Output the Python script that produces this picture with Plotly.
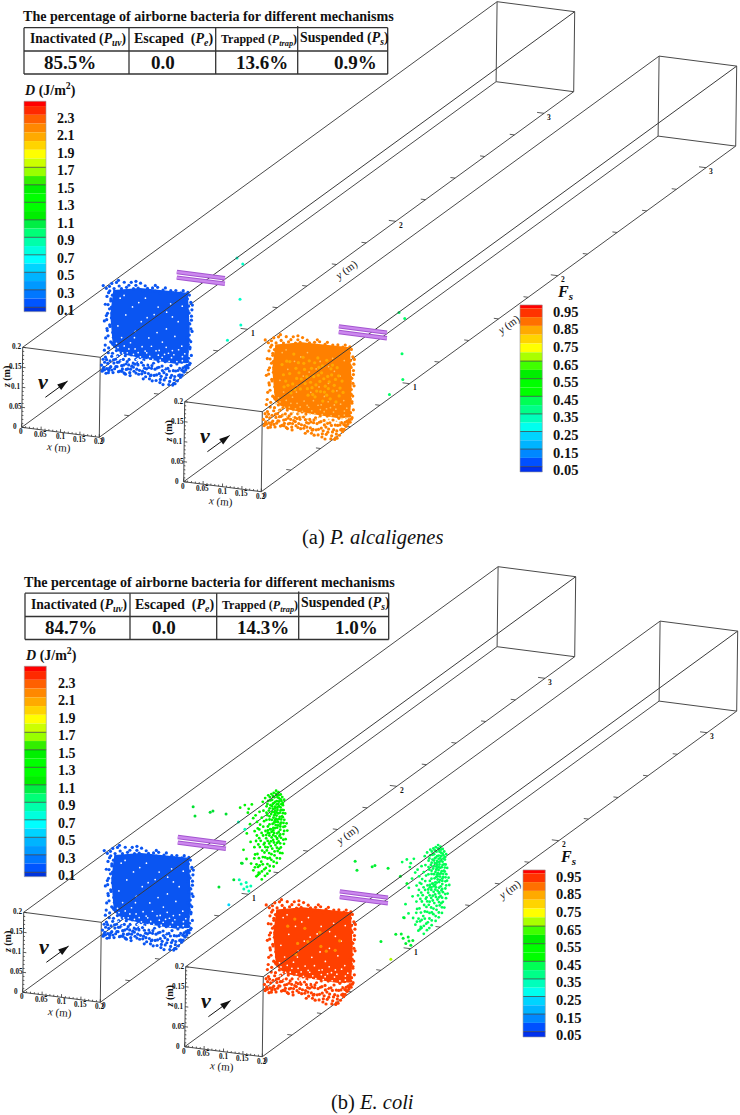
import math
import plotly.graph_objects as go

# ---- chart values (metres / millimetres in duct coordinates) ----
DUCT_X = 0.2
DUCT_Z = 0.2
DUCT_Y = 3.2
CLOUD_Y = 0.58      # position of the bacteria front just after entering
FRONT2_Y = 1.2      # second front (b), and reference plane for stragglers
ROD_Y = 0.9
x_ticks = [0, 0.05, 0.1, 0.15, 0.2]
z_ticks = [0, 0.05, 0.1, 0.15, 0.2]
y_major = [1, 2, 3]
y_minor = [0.2, 0.4, 0.6, 0.8, 1.2, 1.4, 1.6, 1.8, 2.2, 2.4, 2.6, 2.8]

D_labels = ["2.3", "2.1", "1.9", "1.7", "1.5", "1.3", "1.1", "0.9", "0.7", "0.5", "0.3", "0.1"]
D_values = [2.3, 2.1, 1.9, 1.7, 1.5, 1.3, 1.1, 0.9, 0.7, 0.5, 0.3, 0.1]
D_edges = [2.455, 2.4, 2.3, 2.2, 2.1, 2.0, 1.9, 1.8, 1.7, 1.6, 1.5, 1.4, 1.3, 1.2, 1.1, 1.0, 0.9, 0.8, 0.7, 0.6, 0.5, 0.4, 0.3, 0.2, 0.1, 0.05]
D_colors = ["#ff0000", "#ff2a00", "#ff6000", "#ff8800", "#ffaa00", "#ffd400", "#ffff00", "#ccff00", "#99ff00", "#33ee00",
            "#00f000", "#00ff00", "#00ff00", "#00ee00", "#00ee44", "#00ff77", "#00ffaa", "#00ffdd", "#00ffff", "#00d4ff",
            "#00b4ff", "#0099ff", "#0077ff", "#0055ff", "#0033dd"]
F_labels = ["0.95", "0.85", "0.75", "0.65", "0.55", "0.45", "0.35", "0.25", "0.15", "0.05"]
F_values = [0.95, 0.85, 0.75, 0.65, 0.55, 0.45, 0.35, 0.25, 0.15, 0.05]
F_edges = [0.969, 0.95, 0.9, 0.85, 0.8, 0.75, 0.7, 0.65, 0.6, 0.55, 0.5, 0.45, 0.4, 0.35, 0.3, 0.25, 0.2, 0.15, 0.1, 0.05, 0.02]
F_colors = ["#ff0000", "#ff3300", "#ff7000", "#ffaa00", "#ffd400", "#ffff00", "#aaff00", "#40ff00", "#00ee00", "#00ff00",
            "#00ff00", "#00ff55", "#00ff88", "#00ffbb", "#00ffee", "#00d4ff", "#00b4ff", "#0088ff", "#0050ff", "#0030ee"]

headers = ["Inactivated (<i>P<sub>uv</sub></i>)", "Escaped  (<i>P<sub>e</sub></i>)", "Trapped (<i>P<sub>trap</sub></i>)", "Suspended (<i>P<sub>s</sub></i>)"]
values_a = ["85.5%", "0.0", "13.6%", "0.9%"]
values_b = ["84.7%", "0.0", "14.3%", "1.0%"]

# dense part of the cloud at the first front: outline (x mm, z mm)
core_outline = [(12, 188), (81, 202), (204, 205), (210, 113), (207, 30), (173, 24), (108, 26), (44, 30), (13, 46), (5, 125)]
cloud_top = [(2,196),(8,204),(14,192),(20,208),(27,200),(33,194),(40,211),(46,199),(52,205),(58,213),(64,198),(70,207),(76,201),(82,214),(88,196),(94,209),(100,203),(107,197),(113,206),(120,199),(126,209),(133,195),(140,204),(146,210),(153,198),(160,205),(166,200),(173,207),(180,196),(186,203),(192,209),(198,199),(204,206),(208,200),(-6,190),(0,180),(-14,196),(25,214),(70,217),(120,213)]
cloud_left = [(-4,170),(6,160),(-8,150),(3,140),(10,175),(-2,128),(8,118),(-10,108),(4,100),(-3,90),(12,82),(0,72),(-6,66),(7,58),(-1,150),(9,130),(-4,112),(5,96),(14,70),(-7,48),(2,42),(11,55),(-2,85),(6,165),(-9,35),(1,30),(13,52),(-5,122),(8,145),(3,185)]
cloud_right = [(203,190),(212,182),(206,172),(215,164),(208,155),(202,146),(214,138),(210,128),(205,120),(216,110),(209,100),(203,92),(213,84),(207,76),(211,66),(204,58),(215,50),(208,42),(206,34),(212,30),(201,18),(210,26),(214,148),(205,160),(209,88),(213,116),(204,24),(211,70),(207,130),(216,176)]
cloud_bottom = [(-14,-18),(-10,-8),(-16,-3),(-8,5),(-12,12),(-4,-22),(-2,-10),(-6,18),(0,3),(3,-14),(6,10),(8,-4),(10,22),(12,30),(14,-18),(16,6),(18,-8),(20,16),(22,38),(24,-2),(27,26),(29,10),(32,-12),(34,33),(36,2),(38,-6),(40,18),(43,-16),(45,28),(47,8),(50,40),(52,-4),(55,20),(57,-13),(60,32),(62,4),(65,12),(68,-8),(70,36),(72,22),(75,-2),(78,9),(80,-14),(83,28),(85,42),(87,16),(90,-5),(93,24),(95,3),(98,-18),(100,36),(103,12),(105,-9),(108,-22),(110,30),(113,5),(115,-26),(118,18),(120,-12),(123,38),(125,-24),(128,8),(130,24),(133,-6),(136,-20),(138,34),(140,14),(143,-32),(145,-2),(148,26),(150,-14),(153,40),(155,10),(158,-30),(160,-22),(163,18),(165,-6),(168,32),(170,-26),(172,-16),(175,6),(178,24),(180,-18),(183,-4),(185,14),(188,-8),(190,30),(192,-2),(195,8),(197,6),(199,20),(201,12),(203,18),(205,20),(207,18),(174,-26),(168,-30),(58,-20),(112,-12),(25,25),(75,30),(150,32),(182,34),(30,40),(125,42),(160,36),(95,38),(195,36)]
cloud_bottom2 = [(-8,-14),(-3,12),(5,-8),(11,-12),(15,14),(21,-2),(25,9),(28,-14),(33,14),(37,-12),(41,4),(48,-6),(50,14),(54,6),(59,-4),(66,2),(70,10),(73,-12),(77,14),(82,-4),(88,-12),(92,10),(96,-8),(100,2),(106,6),(110,-14),(114,12),(122,4),(126,-10),(132,10),(138,-12),(141,3),(146,-20),(149,8),(152,-6),(159,4),(162,-12),(169,6),(173,-8),(181,8),(186,-2),(191,10),(194,16),(-12,-14),(2,-20),(46,-18),(92,-24),(135,-28)]
cloud_gaps = [(30,170),(62,152),(95,178),(128,160),(160,172),(45,130),(85,118),(118,140),(150,108),(180,130),(25,100),(70,92),(105,80),(140,74),(172,92),(190,70),(35,72),(58,62),(88,56),(112,60),(132,52),(150,62),(166,56),(182,60),(198,52),(22,56),(42,52),(70,48),(96,46),(124,50),(146,44),(170,46),(192,44),(50,36),(78,40),(108,34),(135,28),(158,28),(186,24),(30,30),(60,24),(92,20),(120,14),(146,10),(172,16),(196,26),(16,40),(44,12),(80,16),(104,26),(130,40),(156,48),(68,76),(126,96),(165,140),(40,178),(78,165),(150,150),(100,130),(190,170),(24,24),(38,34),(54,46),(66,34),(84,30),(100,42),(116,28),(140,36),(164,38),(178,30),(192,34),(26,46),(74,22),(98,12),(126,20),(152,18),(180,14),(35,14),(60,12)]
cloud_light = [(60,170),(72,150),(88,135),(100,158),(112,120),(118,100),(125,145),(130,85),(138,118),(145,165),(150,95),(158,130),(165,105),(172,150),(178,80),(185,118),(50,120),(58,95),(68,110),(78,85),(90,100),(98,72),(108,92),(116,70),(128,110),(136,62),(146,78),(155,70),(162,90),(170,64),(42,150),(34,115),(46,90),(54,72),(66,135),(84,165),(94,118),(106,140),(122,168),(134,150),(148,125),(160,155),(176,130),(188,90),(30,140),(40,100),(80,110),(114,155),(142,100),(168,120),(74,125),(104,105),(132,132),(152,112),(64,82),(120,85),(180,100),(96,88),(140,85),(110,75),(86,150),(124,125),(156,145),(50,150),(36,85)]

# second front (panel b), at y = FRONT2_Y
green_band = [(192,204),(198,201),(186,198),(204,196),(180,194),(195,192),(208,190),(176,186),(188,187),(200,186),(213,184),(182,180),(194,178),(206,180),(172,176),(186,172),(198,172),(210,170),(178,166),(190,164),(204,164),(168,162),(184,158),(196,156),(212,158),(174,152),(188,150),(202,150),(216,150),(180,144),(194,142),(208,142),(170,140),(186,136),(200,134),(214,134),(176,130),(192,126),(206,126),(220,126),(162,124),(184,120),(198,118),(212,116),(152,114),(172,112),(190,110),(204,108),(222,108),(146,104),(166,100),(182,100),(196,98),(212,98),(156,94),(176,90),(192,90),(206,88),(218,86),(144,86),(168,82),(186,80),(200,78),(214,74),(154,74),(176,70),(192,68),(206,64),(148,64),(166,60),(184,58),(198,54),(210,50),(138,56),(158,50),(176,46),(190,42),(204,36),(146,40),(166,34),(182,30),(196,24),(138,28),(156,22),(172,18),(188,14),(130,14),(148,8),(164,4),(178,2),(136,-2),(152,-8),(166,-12),(144,-16),(158,-22),(150,-6),(190,130),(196,112),(202,92),(186,92),(180,76),(170,52),(160,34),(152,12),(194,150),(200,166),(190,176),(204,122),(196,84),(210,140),(180,106),(188,124),(172,96),(164,70),(178,34),(140,136),(150,146),(122,150),(130,162),(112,158),(100,150),(120,140),(134,128),(144,120),(126,112),(138,96),(128,68),(118,88),(110,46),(118,24),(105,12)]
green_band2 = [(184,190),(192,196),(200,194),(172,190),(164,182),(178,178),(200,178),(210,176),(158,172),(170,168),(194,170),(206,172),(182,164),(196,162),(208,158),(176,158),(190,154),(204,156),(160,150),(168,146),(182,150),(198,148),(210,150),(188,142),(202,140),(176,138),(192,134),(206,134),(156,132),(168,128),(182,130),(198,126),(212,126),(176,118),(192,118),(204,116),(216,118),(160,110),(178,106),(186,110),(200,102),(214,106),(150,102),(172,102),(188,98),(204,96),(160,88),(182,86),(196,86),(212,84),(150,80),(172,76),(188,74),(204,74),(162,66),(180,64),(196,62),(142,72),(172,60),(190,52),(204,50),(152,58),(164,46),(182,44),(196,36),(150,30),(172,32),(188,26),(140,38),(160,16),(178,14),(144,14),(168,8),(158,-2),(172,-6),(140,6),(148,-12),(196,188),(204,184),(190,160),(184,170),(196,132),(186,104),(176,96),(196,74),(202,60),(168,90),(190,146)]
sparse_green = [(-21,137),(-16,115),(23,129),(30,133),(64,130),(48,-55),(107,12),(86,-32)]
sparse_cool = [(96,114),(113,98),(105,-40),(112,-52),(120,-45),(118,-35),(125,-55),(130,-42),(100,-30)]
sparse_single = [(74,-96)]
sparse_a = [(95,111),(110,98),(104,9),(107,-55),(73,-97)]

# ---- projection ----
Y_UNIT = (148.25, -108.0)
X_UNIT = (388.0, 50.0)
Z_UNIT = (5.0, -400.0)

def proj(origin, x, y, z):
    return (origin[0] + x * X_UNIT[0] + y * Y_UNIT[0] + z * Z_UNIT[0],
            origin[1] + x * X_UNIT[1] + y * Y_UNIT[1] + z * Z_UNIT[1])

PAGE_W, PAGE_H = 740, 1115
fig = go.Figure()
annotations = []
shapes = []
LINE = "#4a4a4a"
SERIF = "Liberation Serif"


def text(x, y, s, size, bold=True, angle=0, color="#111111", anchor="center"):
    annotations.append(dict(x=x, y=y, xref="x", yref="y", text=f"<b>{s}</b>" if bold else s, showarrow=False,
                            font=dict(family=SERIF, size=size, color=color), textangle=angle,
                            xanchor=anchor, yanchor="middle"))


def points(origin, pts, y, color, size):
    p = [proj(origin, a / 1000, y, b / 1000) for a, b in pts]
    fig.add_trace(go.Scatter(x=[q[0] for q in p], y=[q[1] for q in p], mode="markers",
                             marker=dict(color=color, size=size, line=dict(width=0)), hoverinfo="skip", showlegend=False))


def segs(seg_list, color=LINE, width=1.0):
    xs, ys = [], []
    for a, b in seg_list:
        xs += [a[0], b[0], None]
        ys += [a[1], b[1], None]
    fig.add_trace(go.Scatter(x=xs, y=ys, mode="lines", line=dict(color=color, width=width), hoverinfo="skip", showlegend=False))


def cloud(o, main, light=None, light_pts=(), gap_color="#ffffff"):
    core = [proj(o, a / 1000, CLOUD_Y, b / 1000) for a, b in core_outline]
    fig.add_trace(go.Scatter(x=[q[0] for q in core], y=[q[1] for q in core], mode="lines", fill="toself", fillcolor=main,
                             line=dict(width=0, color=main), hoverinfo="skip", showlegend=False))
    points(o, cloud_top + cloud_left + cloud_right + cloud_bottom + cloud_bottom2, CLOUD_Y, main, 3.2)
    points(o, cloud_gaps, CLOUD_Y, gap_color, 1.7)
    if light:
        points(o, light_pts, CLOUD_Y, light, 3.2)


def duct_back(o):
    P = lambda x, y, z: proj(o, x, y, z)
    corners = [(0, 0), (DUCT_X, 0), (DUCT_X, DUCT_Z), (0, DUCT_Z)]
    s = []
    for k in range(4):
        a, b = corners[k], corners[(k + 1) % 4]
        s.append((P(a[0], 0, a[1]), P(b[0], 0, b[1])))
        s.append((P(a[0], DUCT_Y, a[1]), P(b[0], DUCT_Y, b[1])))
        if k != 2:
            s.append((P(a[0], 0, a[1]), P(a[0], DUCT_Y, a[1])))
    segs(s)
    t = []
    for y in y_minor:
        t.append((P(DUCT_X, y, 0), P(DUCT_X - 0.012, y, 0)))
    for y in y_major:
        t.append((P(DUCT_X, y, 0), P(DUCT_X - 0.018, y, 0)))
    for k in range(0, 21):
        v = k / 100
        ln = 0.008 if k % 5 == 0 else 0.004
        t.append((P(v, 0, 0), P(v, 0, ln)))
        t.append((P(0, 0, v), P(ln, 0, v)))
    segs(t, "#333333", 0.8)


def duct_front(o):
    P = lambda x, y, z: proj(o, x, y, z)
    # the upper long edge passes in front of the particles
    segs([(P(DUCT_X, 0, DUCT_Z), P(DUCT_X, DUCT_Y, DUCT_Z))], "#3a3a3a", 1.0)
    for z in (0.152, 0.138):
        a, b = P(0.054, ROD_Y, z), P(0.178, ROD_Y, z)
        segs([(a, b)], "#a455d0", 4.4)
        segs([(a, b)], "#cc88ee", 2.4)
    for y in y_major:
        q = P(DUCT_X, y, 0)
        text(q[0] + 5, q[1] + 4, str(y), 7.5)
    for v in x_ticks:
        q = P(v, 0, 0)
        text(q[0] - 0.5, q[1] + 5, f"{v:g}", 7.2)
    for v in z_ticks:
        q = P(0, 0, v)
        text(q[0] - 6.5, q[1], f"{v:g}", 7.2)
    q = P(DUCT_X, 0, 0)
    text(q[0] + 4, q[1] + 4, "0", 7.2)
    q = P(0.095, 0, 0)
    text(q[0] - 0.5, q[1] + 15, "<i>x</i> (m)", 11, bold=False, angle=5)
    q = P(0, 0, 0.125)
    text(q[0] - 15.5, q[1], "<i>z</i> (m)", 10, angle=-90)
    q = P(DUCT_X, 1.67, 0)
    text(q[0], q[1] + 13, "<i>y</i> (m)", 11, bold=False, angle=-36)
    a, b = P(0.06, 0, 0.0825), P(0.06, 0.15, 0.0825)
    segs([(a, b)], "#111111", 1.0)
    ang = math.degrees(math.atan2(b[0] - a[0], a[1] - b[1]))
    fig.add_trace(go.Scatter(x=[b[0]], y=[b[1]], mode="markers", hoverinfo="skip", showlegend=False,
                             marker=dict(symbol="arrow", size=11, angle=ang, color="#111111", line=dict(width=0))))
    q = P(0.05, 0, 0.125)
    text(q[0] + 1.5, q[1] + 1.5, "<i>v</i>", 22)


def bar(x0, x1, ref_px, px_per_unit, edges, colors, values, labels, label_x, size):
    py = lambda v: ref_px - (v - values[-1]) * px_per_unit
    for k, c in enumerate(colors):
        shapes.append(dict(type="rect", x0=x0, x1=x1, y0=py(edges[k]), y1=py(edges[k + 1]), xref="x", yref="y",
                           fillcolor=c, line=dict(width=0), layer="below"))
    shapes.append(dict(type="rect", x0=x0, x1=x1, y0=py(edges[0]), y1=py(edges[-1]), xref="x", yref="y",
                       line=dict(width=0.6, color="#9a9a9a"), layer="above"))
    s = []
    for v, lab in zip(values, labels):
        s.append(((x0, py(v)), (x1, py(v))))
        text(label_x, py(v) + 3.4, lab, size)
    segs(s[3:], "#333333", 0.7)


def table(dx, dy, vals):
    X = [24, 129, 215.7, 297.7, 387.7]
    Y = [27.7, 51, 74]
    s = [((X[0] + dx, y + dy), (X[-1] + dx, y + dy)) for y in Y]
    s += [((x + dx, Y[0] + dy), (x + dx, Y[-1] + dy)) for x in X]
    s.append(((X[3] + dx, 26 + dy), (X[3] + dx, 27.7 + dy)))
    segs(s, "#333333", 1.3)
    text(208.5 + dx, 16 + dy, "The percentage of airborne bacteria for different mechanisms", 14.1)
    cx = [77.5, 173.5, 259, 344]
    cy = [39.5, 39.5, 40, 38]
    sizes = [13.6, 14, 12, 13.8]
    for h, a, b, sz in zip(headers, cx, cy, sizes):
        text(a + dx, b + dy, h, sz)
    vx = [70, 163, 262, 355]
    for v, a in zip(vals, vx):
        text(a + dx, 62 + dy, v, 19)


A_L = (21.7, 427.3)
A_R = (183.7, 481.7)
B_L = (22.7, 992.3)
B_R = (184.7, 1046.7)

for o in (A_L, A_R, B_L, B_R):
    duct_back(o)

# ---- panel a ----
for o, main, light in [(A_L, "#0a55f2", None), (A_R, "#ff8000", "#ffa800")]:
    cloud(o, main, light, cloud_light, "#ffffff" if light is None else "#ffc060")
points(A_L, sparse_a, FRONT2_Y, "#00ffc8", 3)
points(A_R, sparse_a, FRONT2_Y, "#00ff66", 3)

# ---- panel b ----
cloud(B_L, "#0a55f2")
points(B_L, green_band + green_band2, FRONT2_Y, "#00f500", 2.8)
points(B_L, sparse_green, FRONT2_Y, "#00e030", 3)
points(B_L, sparse_cool, FRONT2_Y, "#00ffb0", 3)
points(B_L, sparse_single, FRONT2_Y, "#00d8ff", 3)
cloud(B_R, "#ff4000", "#ff8c00", cloud_light[::6])
points(B_R, green_band + green_band2, FRONT2_Y, "#00ff55", 2.8)
points(B_R, sparse_green + sparse_cool, FRONT2_Y, "#00f030", 3)
points(B_R, sparse_single, FRONT2_Y, "#b0ff00", 3)

for o in (A_L, A_R, B_L, B_R):
    duct_front(o)

# colour bars
bar(24, 46, 307.3, 87.5, D_edges, D_colors, D_values, D_labels, 66, 14)
bar(24.3, 46.3, 872.3, 87.5, D_edges, D_colors, D_values, D_labels, 66.5, 14)
bar(520, 542.3, 466.7, 176, F_edges, F_colors, F_values, F_labels, 565.5, 14.5)
bar(523, 545.3, 1031.7, 176, F_edges, F_colors, F_values, F_labels, 568.5, 14.5)
text(50, 89, "<i>D</i> (J/m<sup>2</sup>)", 14)
text(50.5, 654, "<i>D</i> (J/m<sup>2</sup>)", 14)
text(565, 292, "<i>F<sub>s</sub></i>", 16)
text(568, 857, "<i>F<sub>s</sub></i>", 16)

table(0, 0, values_a)
table(1, 565.5, values_b)

text(372.5, 537, "(a) <i>P. alcaligenes</i>", 20.5, bold=False)
text(372, 1102, "(b) <i>E. coli</i>", 20.5, bold=False)

fig.update_layout(width=PAGE_W, height=PAGE_H, margin=dict(l=0, r=0, t=0, b=0), paper_bgcolor="white", plot_bgcolor="white",
                  showlegend=False, annotations=annotations, shapes=shapes, hovermode=False,
                  xaxis=dict(range=[0, PAGE_W], visible=False, fixedrange=True),
                  yaxis=dict(range=[PAGE_H, 0], visible=False, fixedrange=True))
fig.write_html("out.html", config={"displayModeBar": False},
               post_script="document.body.style.margin='0';document.body.style.overflow='hidden';")
